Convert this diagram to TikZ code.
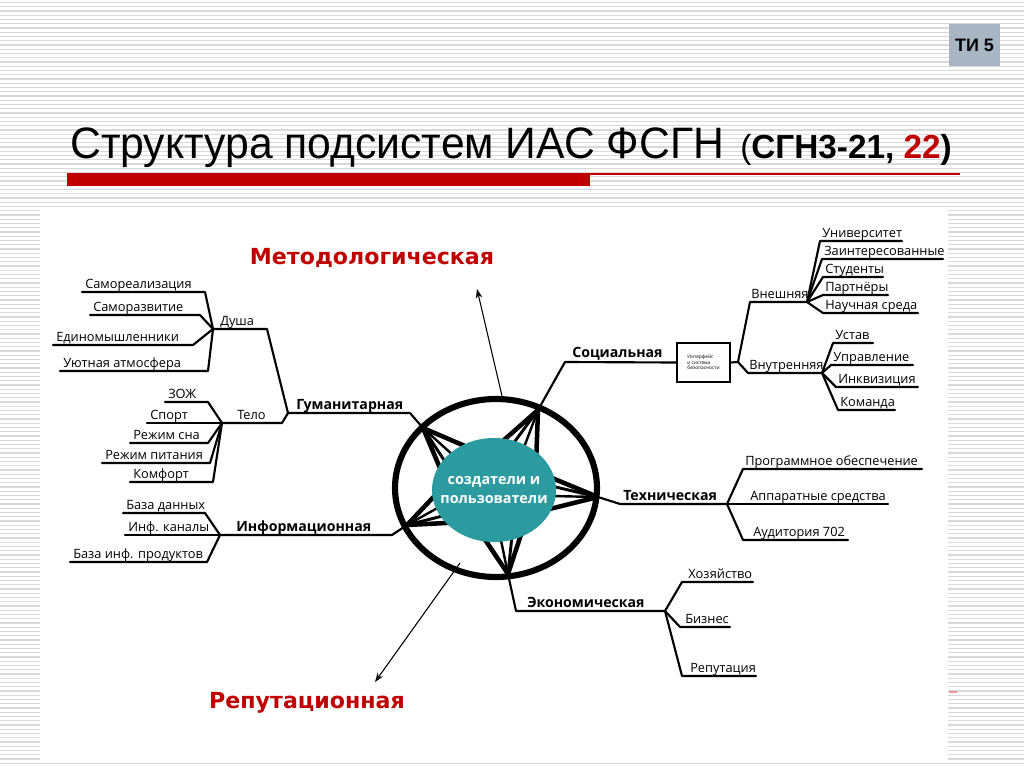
\documentclass[tikz,border=0pt]{standalone}
\usepackage{fontspec}
\setmainfont{Open Sans}
\newfontfamily\titlefont{Liberation Sans}
\newfontfamily\redfont{DejaVu Sans}
\usetikzlibrary{calc,arrows.meta}
\definecolor{rd}{HTML}{C00000}
\definecolor{teal1}{HTML}{2B9B9F}
\definecolor{boxgray}{HTML}{A8B5C3}
\definecolor{bgl}{HTML}{D9D9D9}
\newcommand\leafL[6]{%
  \coordinate (#1a) at (#2,#4); \coordinate (#1b) at (#3,#4);
  \node[lf] (#1) at ($(#1a)+(3,-4)$) {#6};
  \draw[br] (#1a) -- (#1b) -- (#5);}
\newcommand\leafR[7]{%
  \coordinate (#1a) at (#2,#4); \coordinate (#1b) at (#3,#4);
  \node[lf] (#1) at ($(#1a)+(#7,-4)$) {#6};
  \draw[br] (#5) -- (#1a) -- (#1b);}
\begin{document}
\begin{tikzpicture}[x=0.75pt,y=-0.75pt,
  br/.style={line width=1.6pt, line join=round, line cap=round},
  lf/.style={font=\fontsize{9.6}{11}\selectfont, inner sep=0pt, anchor=base west},
  bl/.style={font=\fontsize{10.6}{12}\selectfont\bfseries, inner sep=0pt, anchor=base west},
  redl/.style={font=\redfont\fontsize{16.6}{18}\selectfont\bfseries, text=rd, inner sep=0pt},
  arr/.style={line width=0.8pt, -{Stealth[length=7pt,width=5pt]}},
]
\useasboundingbox (0,0) rectangle (1024,767);
% background
\fill[white] (0,0) rectangle (1024,767);
\foreach \i in {0,...,180} \draw[bgl, line width=1pt] (0,{2.5+\i*4.25}) -- (1024,{2.5+\i*4.25});
\fill[white] (40,207) rectangle (948,760);
\draw[rd!40, line width=1pt] (949,692) -- (957,692);
% header
\fill[boxgray] (949,24) rectangle (1000,66);
\node[font=\titlefont\fontsize{13.5}{14}\selectfont\bfseries, inner sep=0pt] (ti) at (974.5,45) {ТИ 5};
\node[anchor=base west, inner sep=0pt, font=\titlefont\fontsize{33}{36}\selectfont] (title) at (70,158)
  {\scalebox{0.97}[1]{Структура подсистем ИАС ФСГН}};
\node[anchor=base west, inner sep=0pt, font=\titlefont\fontsize{25}{27}\selectfont] (sub) at (740,158)
  {(\bfseries СГН3-21, \textcolor{rd}{22})};
\fill[rd] (67,173) rectangle (590,186);
\draw[rd, line width=0.8pt] (590,174) -- (960,174);

% star and rings
\coordinate (C) at (494,490);
\coordinate (T1) at (423,428);
\coordinate (T2) at (538,410);
\coordinate (T3) at (598,497);
\coordinate (T4) at (508,574);
\coordinate (T5) at (407,525);
\foreach \T/\th in {T1/221, T2/299, T3/4, T4/80, T5/158} {
  \foreach \d/\w in {-28/3.4, -12/2.2, 4/1.8, 28/3.4}
    \draw[line width=\w pt] (\T) -- ($(C)+({\th+\d}:50 and 42)$);
}
\draw[line width=4.6pt] (496,488) ellipse [x radius=101, y radius=89];
\fill[teal1] (C) ellipse [x radius=62, y radius=52];
\node[font=\fontsize{10.8}{14}\selectfont\bfseries, text=white, align=center, inner sep=0pt] (core) at (C) {создатели и\\пользователи};

% ===== Гуманитарная =====
\coordinate (jd) at (213,329);
\coordinate (jt) at (222,423);
\coordinate (jg) at (288,413);
\coordinate (gend) at (410,413);
\leafL{s1}{82}{205}{292}{jd}{Самореализация}
\leafL{s2}{90}{200}{315}{jd}{Саморазвитие}
\leafL{s3}{53}{193}{345}{jd}{Единомышленники}
\leafL{s4}{60}{208}{371}{jd}{Уютная атмосфера}
\coordinate (dushaE) at (267,329);
\node[lf] (dusha) at (220,325) {Душа};
\draw[br] (jd) -- (dushaE) -- (jg);
\leafL{t1}{165}{208}{402}{jt}{ЗОЖ}
\leafL{t2}{147}{222}{423}{jt}{Спорт}
\leafL{t3}{130}{208}{443}{jt}{Режим сна}
\leafL{t4}{102}{210}{463}{jt}{Режим питания}
\leafL{t5}{130}{213}{482}{jt}{Комфорт}
\coordinate (teloE) at (282,423);
\node[lf] (telo) at (237,419) {Тело};
\draw[br] (jt) -- (teloE) -- (jg);
\node[bl] (gum) at (296,409) {Гуманитарная};
\draw[br] (jg) -- (gend) -- (T1);

% ===== Информационная =====
\coordinate (ji) at (220,535);
\coordinate (iend) at (392,535);
\leafL{i1}{123}{205}{513}{ji}{База данных}
\leafL{i2}{125}{220}{535}{ji}{Инф. каналы}
\leafL{i3}{70}{207}{562}{ji}{База инф. продуктов}
\node[bl] (inf) at (236,531) {Информационная};
\draw[br] (ji) -- (iend) -- (T5);

% ===== Социальная =====
\coordinate (sstart) at (565,362);
\node[bl] (soc) at (572,357) {Социальная};
\node[draw, line width=1.1pt, minimum width=53*0.75pt, minimum height=39*0.75pt, inner sep=0pt,
      font=\fontsize{3.6}{4.2}\selectfont, align=left] (iface) at (703.5,362.5) {Интерфейс\\и система\\безопасности};
\draw[br] (T2) -- (sstart) -- (iface.west);
\coordinate (js) at (738,362);
\coordinate (vnS) at (750,302);
\coordinate (jvn) at (807,302);
\coordinate (inS) at (748,373);
\coordinate (jin) at (822,373);
\draw[br] (iface.east) -- (js) -- (vnS) -- (jvn);
\draw[br] (js) -- (inS) -- (jin);
\node[lf] (vnesh) at (751,298) {Внешняя};
\node[lf] (vnutr) at (749,369) {Внутренняя};
\leafR{e1}{820}{902}{241}{jvn}{Университет}{2}
\leafR{e2}{822}{943}{259}{jvn}{Заинтересованные}{2}
\leafR{e3}{823}{883}{277}{jvn}{Студенты}{2}
\leafR{e4}{823}{888}{295}{jvn}{Партнёры}{2}
\leafR{e5}{823}{918}{313}{jvn}{Научная среда}{2}
\leafR{n1}{833}{873}{343}{jin}{Устав}{2}
\leafR{n2}{831}{913}{365}{jin}{Управление}{2}
\leafR{n3}{836}{918}{387}{jin}{Инквизиция}{2}
\leafR{n4}{838}{895}{410}{jin}{Команда}{2}

% ===== Техническая =====
\coordinate (tstart) at (620,504);
\coordinate (jtech) at (727,504);
\node[bl] (tech) at (623,500) {Техническая};
\draw[br] (T3) -- (tstart) -- (jtech);
\leafR{h1}{743}{922}{469}{jtech}{Программное обеспечение}{2}
\leafR{h2}{727}{888}{504}{jtech}{Аппаратные средства}{23}
\leafR{h3}{743}{848}{540}{jtech}{Аудитория 702}{10}

% ===== Экономическая =====
\coordinate (estart) at (516,611);
\coordinate (jeco) at (665,611);
\node[bl] (eco) at (527,607) {Экономическая};
\draw[br] (T4) -- (estart) -- (jeco);
\leafR{k1}{682}{753}{582}{jeco}{Хозяйство}{6}
\leafR{k2}{680}{730}{627}{jeco}{Бизнес}{5}
\leafR{k3}{682}{756}{676}{jeco}{Репутация}{8}

% ===== red labels and arrows =====
\node[redl] (metod) at (372,258) {Методологическая};
\node[redl] (reput) at (307,703) {Репутационная};
\coordinate (mA) at (502,396);
\coordinate (mB) at (477,289);
\coordinate (rA) at (460,563);
\coordinate (rB) at (375,682);
\draw[arr] (mA) -- (mB);
\draw[arr] (rA) -- (rB);
\end{tikzpicture}
\end{document}
